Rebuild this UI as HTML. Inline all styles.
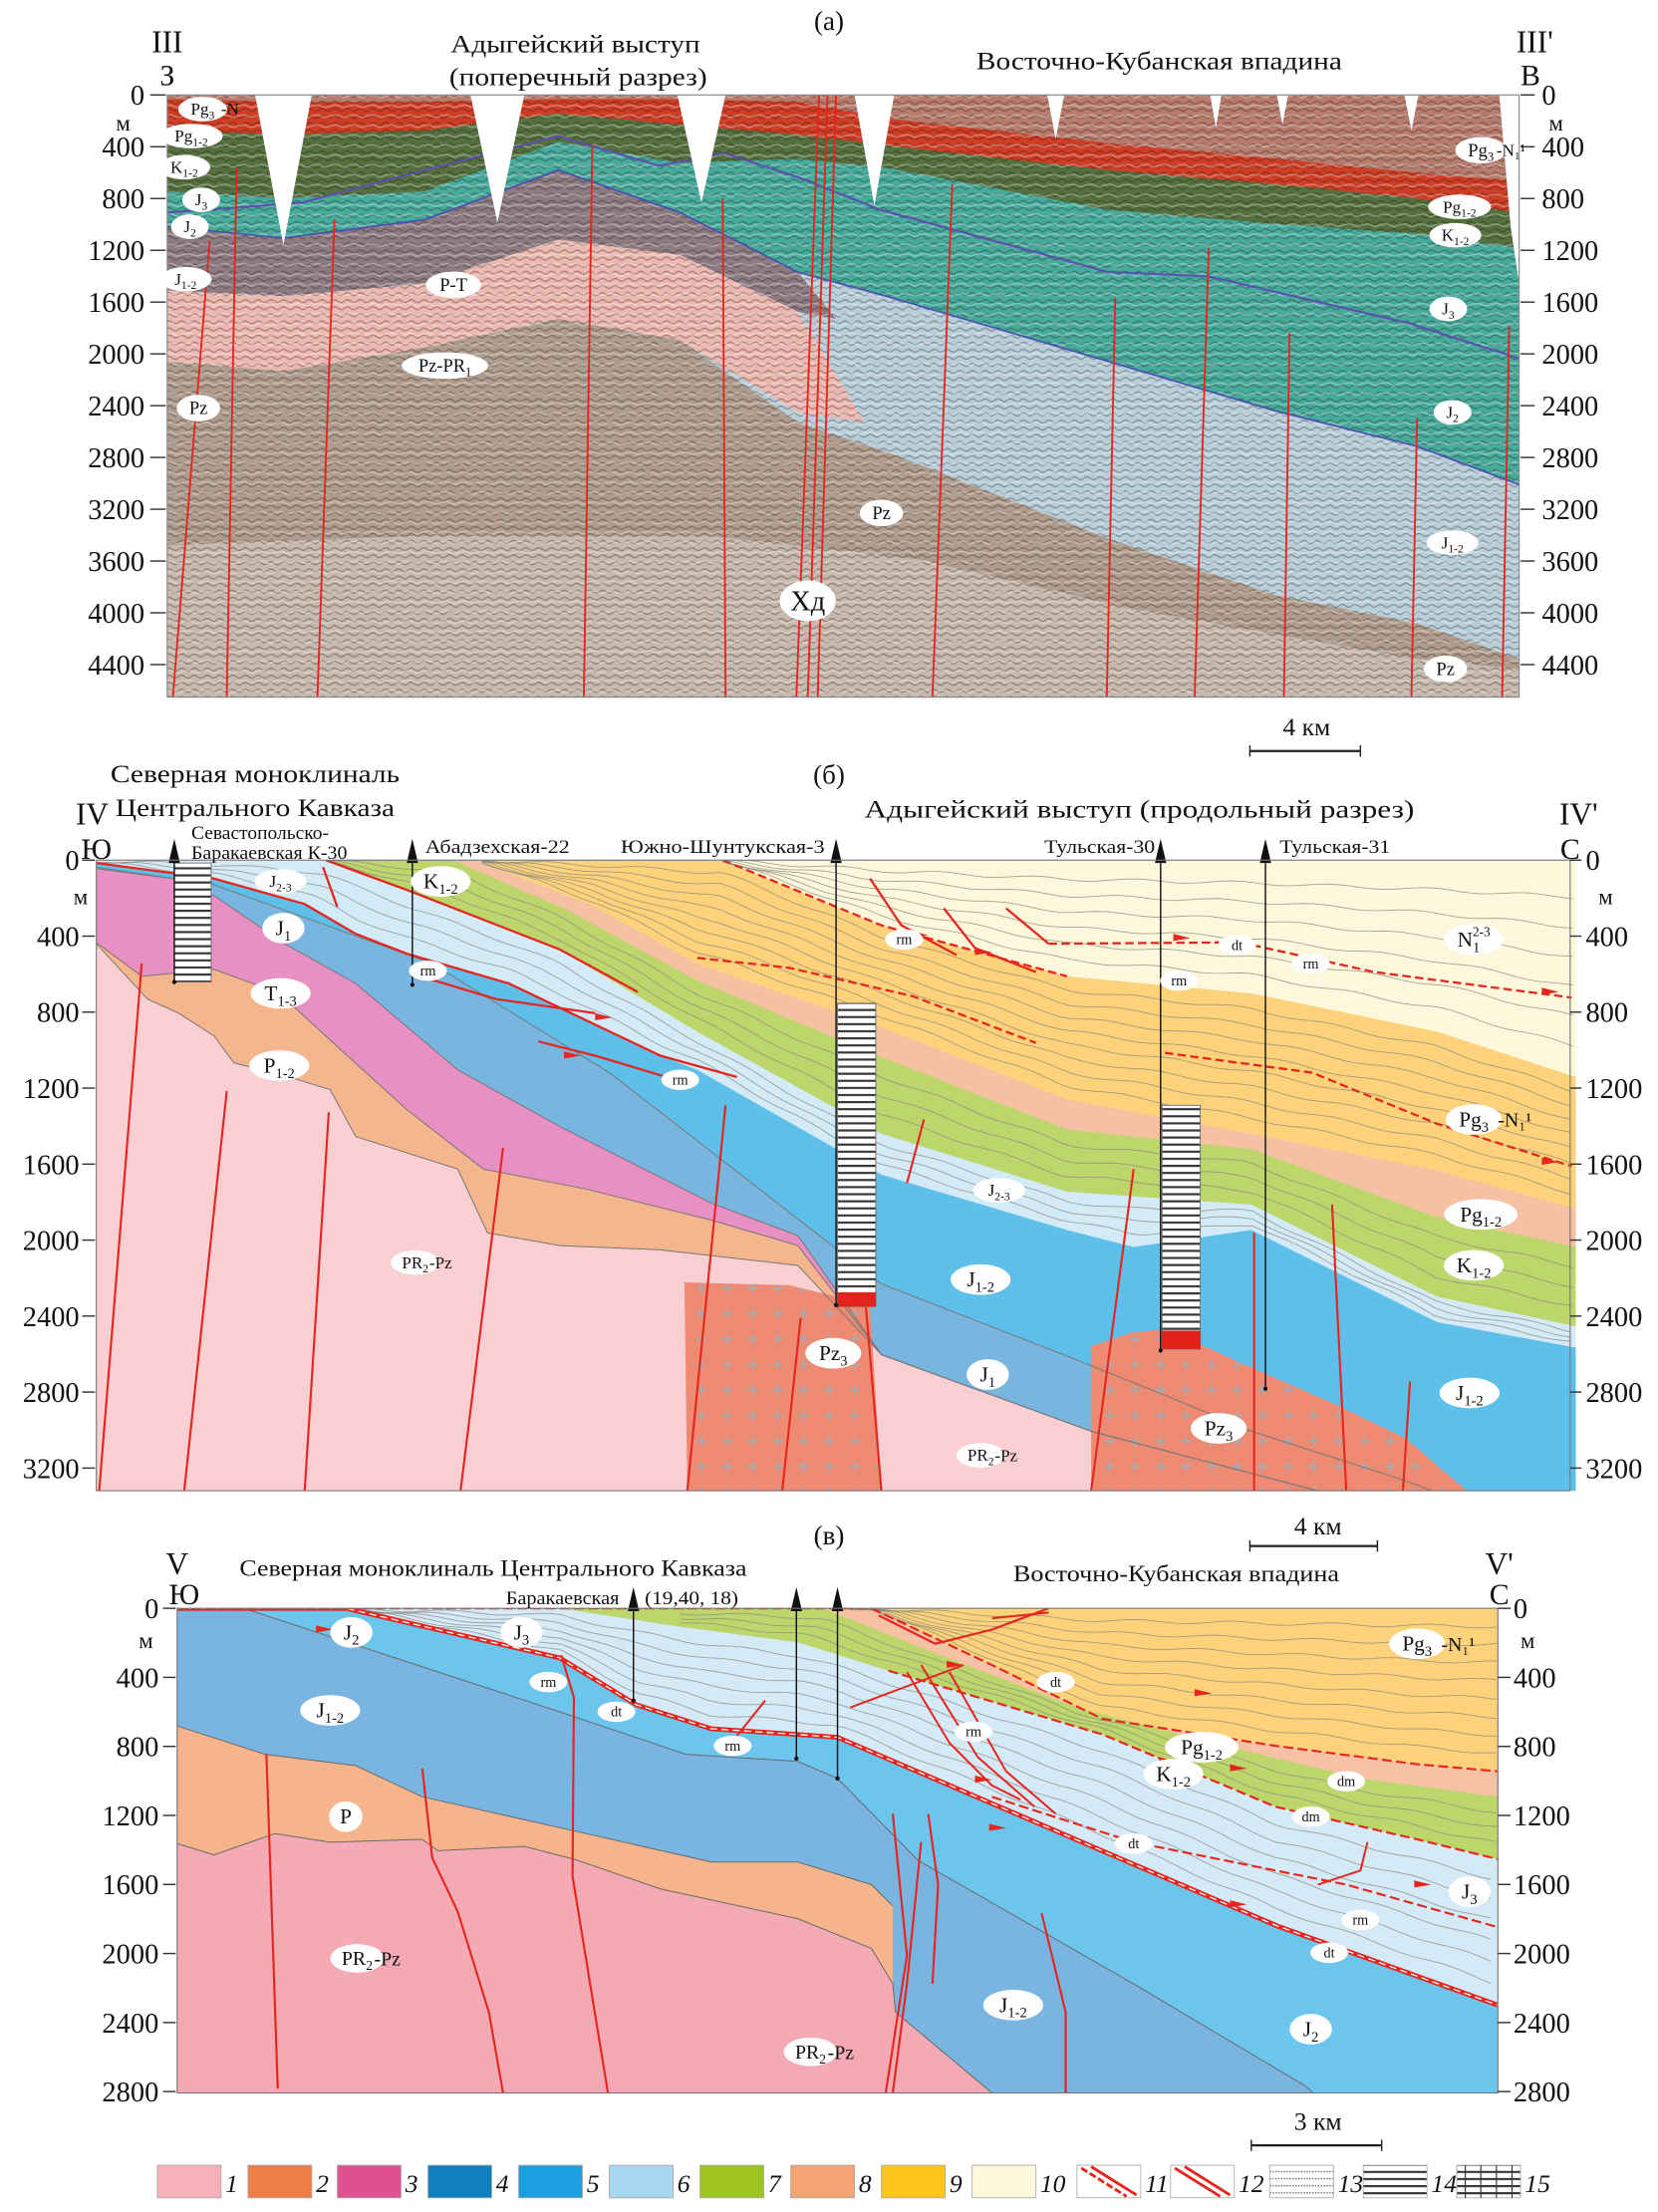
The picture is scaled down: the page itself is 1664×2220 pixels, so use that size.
<!DOCTYPE html>
<html><head><meta charset="utf-8">
<style>
html,body{margin:0;padding:0;background:#fff;}
svg{display:block;font-family:"Liberation Serif","DejaVu Serif",serif;}
</style></head>
<body>
<svg id="fig" xmlns="http://www.w3.org/2000/svg" width="1664" height="2220" viewBox="0 0 1170 1561" preserveAspectRatio="none">
<defs>
<pattern id="seis" width="9" height="5" patternUnits="userSpaceOnUse">
<path d="M0 2.5 Q2.25 0.5 4.5 2.5 T9 2.5" fill="none" stroke="rgba(40,20,15,0.35)" stroke-width="0.9"/>
</pattern>
<pattern id="seis2" width="13" height="7" patternUnits="userSpaceOnUse">
<path d="M0 5 Q3 3 6 5 T13 4" fill="none" stroke="rgba(255,255,255,0.35)" stroke-width="1"/>
</pattern>
<pattern id="cross" width="18" height="18" patternUnits="userSpaceOnUse">
<path d="M9 5V13M5 9H13" stroke="#9cb0b8" stroke-width="1"/>
</pattern>
<pattern id="stripes" width="6" height="5" patternUnits="userSpaceOnUse">
<rect width="6" height="5" fill="#fff"/><rect y="2" width="6" height="1.5" fill="#333"/>
</pattern>
<pattern id="dashes" width="6" height="5" patternUnits="userSpaceOnUse">
<rect width="6" height="5" fill="#fff"/><path d="M0 2.5H6" stroke="#555" stroke-width="0.8" stroke-dasharray="1 1"/>
</pattern>
<clipPath id="clipA"><rect x="118" y="67" width="954" height="425"/></clipPath>
<clipPath id="clipB"><rect x="68" y="607" width="1044" height="445"/></clipPath>
<clipPath id="clipC"><rect x="125" y="1135" width="932" height="342"/></clipPath>
</defs>
<g id="gA"></g>
<g id="gB"></g>
<g id="gC"></g>
<g id="gT"></g>
<g id="gL"></g>
</svg>
<script>
// ---- data arrays ----
const ticksA = [0,400,800,1200,1600,2000,2400,2800,3200,3600,4000,4400];
const ticksB = [0,400,800,1200,1600,2000,2400,2800,3200];
const ticksC = [0,400,800,1200,1600,2000,2400,2800];
const legendNums = ["1","2","3","4","5","6","7","8","9","10","11","12","13","14","15"];
const legendColors = ["#f5b1b7","#ee7d47","#e0528f","#0f7fc0","#1c9fdf","#a7d7f1","#9dc41f","#f4a372","#fdc41c","#fdf8dc","","","","",""];

// axis functions
const yA = v => 67 + v*(402/4400);
const yB = v => 607 + v*(429/3200);
const yC = v => 1135 + v*(341/2800);

const NS="http://www.w3.org/2000/svg";
function mk(tag,parent,attrs){const e=document.createElementNS(NS,tag);for(const k in attrs)e.setAttribute(k,attrs[k]);parent.appendChild(e);return e;}
const P = pts => pts.map(p=>p[0]+','+p[1]).join(' ');
function below(pts,bottom){return [...pts,[pts[pts.length-1][0],bottom],[pts[0][0],bottom]];}
function between(t,b){return [...t,...b.slice().reverse()];}
function interp(pts,x){if(x<=pts[0][0])return pts[0][1];for(let i=1;i<pts.length;i++){if(x<=pts[i][0]){const a=pts[i-1],b=pts[i];return a[1]+(b[1]-a[1])*(x-a[0])/(b[0]-a[0]);}}return pts[pts.length-1][1];}
function zip(X,Y){return X.map((x,i)=>[x,Y[i]]);}

const gA=document.getElementById('gA'),gB=document.getElementById('gB'),gC=document.getElementById('gC'),gT=document.getElementById('gT'),gL=document.getElementById('gL');

function poly(g,pts,fill,name,extra){const e=mk('polygon',g,Object.assign({points:P(pts),fill:fill},extra||{}));


return e;}
function line(g,pts,stroke,w,name,extra){const e=mk('polyline',g,Object.assign({points:P(pts),fill:'none',stroke:stroke,'stroke-width':w},extra||{}));


return e;}
function txt(g,x,y,s,size,anchor,name,extra){const e=mk('text',g,Object.assign({x:x,y:y,'font-size':size,'text-anchor':anchor||'start',fill:'#111'},extra||{}));e.textContent=s;


return e;}
function glabel(g,x,y,main,sub,sup,size,name){
  const grp=mk('g',g,{});
  
  
  const len=main.length+0.65*Math.max((sub||'').length,(sup||'').length);
  const rx=len*size*0.32+7, ry=size*0.72;
  mk('ellipse',grp,{cx:x,cy:y,rx:rx,ry:ry,fill:'#fff'});
  const t=mk('text',grp,{x:x,y:y+size*0.33,'font-size':size,'text-anchor':'middle',fill:'#111'});
  const a=mk('tspan',t,{});a.textContent=main;
  if(sub){const s=mk('tspan',t,{'font-size':size*0.68,dy:size*0.25});s.textContent=sub;}
  if(sup){const s=mk('tspan',t,{'font-size':size*0.62,dy:sub?-size*0.75:-size*0.45,dx:sub?-(sub.length*size*0.34):0});s.textContent=sup;}
  return grp;}

// ================= PANEL A (seismic) =================
const cA=mk('g',gA,{'clip-path':'url(#clipA)'});
const XA=[118,200,300,394,480,563,629,782,900,1000,1072];
const aRed=zip(XA,[70,72,72,70,70,72,84,101,112,122,128]);
const aB1=zip(XA,[92,95,92,80,88,95,103,120,130,140,150]);
const aB2=zip(XA,[135,140,135,100,115,112,119,148,158,165,175]);
const aB3=zip(XA,[160,168,155,120,150,192,210,255,290,315,342]);
const aB5=zip(XA,[255,262,245,225,240,298,320,380,420,440,465]);
const aPinkT=[[118,205],[200,209],[300,200],[394,169],[480,180],[563,220],[610,298]];
const aPinkB=[[118,255],[200,262],[300,245],[394,225],[480,240],[563,291],[610,298]];
poly(cA,[[118,67],[1072,67],[1072,492],[118,492]],'#b77c6e','seis-top-pg3-n1');
poly(cA,below(aRed,492),'#cf3d24','seis-red-band');
poly(cA,below(aB1,492),'#54703f','seis-green-band');
poly(cA,below(aB2,492),'#45ab9c','seis-teal-j');
poly(cA,below(aB3,492),'#b7cfdb','seis-lightblue-j12');
poly(cA,between([...aB3.slice(0,6),[590,225]],[...aPinkT.slice(0,6),[590,225]]),'#8c7c82','seis-mottled-left');
poly(cA,below(aB5,492),'#ae9d8e','seis-pz');
poly(cA,between(aPinkT,aPinkB),'#ecb9b1','seis-pink-pt');
poly(cA,[[118,385],[300,378],[500,378],[650,395],[800,430],[1000,465],[1072,472],[1072,492],[118,492]],'#d6ccc3','seis-lower-light',{opacity:0.6});
mk('rect',cA,{x:118,y:67,width:954,height:425,fill:'url(#seis)'});
mk('rect',cA,{x:118,y:67,width:954,height:425,fill:'url(#seis2)'});
line(cA,[[118,150],[213,143],[300,120],[394,96],[465,117],[511,108],[563,125],[621,148],[782,192],[853,195],[994,228],[1072,253]],'#5a4fb0',1.4,'horizon-line-1');
line(cA,aB3,'#4b4fb0',1.2,'horizon-line-2');
const notches=[[200,20,173],[351,19,157],[495,17,143],[617,14,145],[745,6,98],[858,4,90],[905,4,88],[996,5,92]];
notches.forEach(n=>{poly(cA,[[n[0]-n[1],67],[n[0]+n[1],67],[n[0],n[2]]],'#fff','notch');});
poly(cA,[[1058,67],[1072,67],[1072,200],[1066,160]],'#fff','notch-right-edge');
const faultsA=[[148,170,122,492],[167,118,160,492],[236,155,224,492],[418,103,412,492],[510,140,512,492],[578,65,562,492],[584,65,570,492],[590,65,577,492],[672,130,658,492],[787,210,781,492],[853,175,843,492],[910,235,906,492],[1000,295,996,492],[1065,230,1060,492]];
faultsA.forEach(f=>line(cA,[[f[0],f[1]],[f[2],f[3]]],'#e8231e',1.3,'fault-line'));
const fa=mk('rect',gA,{x:118,y:67,width:954,height:425,fill:'none',stroke:'#888','stroke-width':0.8});


ticksA.forEach(v=>{
  const y=yA(v);
  line(gA,[[106,y],[117,y]],'#333',1,'tick-left');
  line(gA,[[1073,y],[1083,y]],'#333',1,'tick-right');
  txt(gA,102,y+7,String(v),20,'end','depth-label-left');
  txt(gA,1088,y+7,String(v),20,'start','depth-label-right');
});
txt(gA,92,92,'м',16,'end','unit-left');
txt(gA,1093,92,'м',16,'start','unit-right');
glabel(gA,143,77,'Pg','3','',12,'label-pg3-n1');txt(gA,156,81,'-N',12,'start','label-n1');
glabel(gA,135,96,'Pg','1-2','',12,'label-pg12');
glabel(gA,130,118,'K','1-2','',12,'label-k12');
glabel(gA,142,141,'J','3','',12,'label-j3');
glabel(gA,134,160,'J','2','',12,'label-j2');
glabel(gA,131,197,'J','1-2','',12,'label-j12');
glabel(gA,320,201,'P-T','','',13,'label-p-t');
glabel(gA,314,258,'Pz-PR','1','',13,'label-pz-pr1');
glabel(gA,140,288,'Pz','','',13,'label-pz-left');
glabel(gA,622,362,'Pz','','',13,'label-pz-mid');
glabel(gA,570,424,'Хд','','',20,'label-hd');
glabel(gA,1045,106,'Pg','3','',13,'label-pg3-right');txt(gA,1056,110,'-N₁¹',12,'start','label-n1-right');
glabel(gA,1030,146,'Pg','1-2','',12,'label-pg12-right');
glabel(gA,1027,166,'K','1-2','',12,'label-k12-right');
glabel(gA,1022,218,'J','3','',12,'label-j3-right');
glabel(gA,1025,291,'J','2','',12,'label-j2-right');
glabel(gA,1025,383,'J','1-2','',12,'label-j12-right');
glabel(gA,1020,472,'Pz','','',13,'label-pz-right');

// ================= PANEL B =================
const cB=mk('g',gB,{'clip-path':'url(#clipB)'});
const bN=[[68,607],[510,607],[622,653],[753,689],[883,701],[1014,728],[1112,760]];
const bY=[[68,607],[337,607],[420,640],[492,680],[622,725],[753,776],[883,800],[1014,826],[1112,853]];
const bS=[[68,607],[320,607],[400,642],[492,692],[622,746],[753,797],[883,811],[1014,859],[1112,880]];
const bG=[[68,607],[230,607],[287,628],[395,670],[492,728],[622,800],[753,841],[883,850],[1014,915],[1112,936]];
const bLB=[[68,609],[151,620],[215,638],[251,659],[287,673],[359,694],[466,745],[492,755],[622,829],[753,868],[800,880],[883,868],[1014,933],[1112,951]];
const bB5=[[68,612],[150,624],[305,680],[430,757],[492,805],[622,906],[753,957],[823,985],[883,1010],[992,1045],[1112,1090]];
const bMagT=[[68,613],[122,620],[151,632],[201,666],[251,694],[323,755],[395,795],[502,849],[563,872],[622,956],[770,1010],[1112,1100]];
const bOrT=[[68,665],[100,689],[151,684],[197,701],[233,734],[287,783],[341,825],[413,839],[502,861],[563,879],[622,956],[770,1010],[1112,1100]];
const bPkT=[[68,666],[104,705],[126,715],[151,731],[165,750],[201,759],[233,769],[251,802],[323,825],[344,870],[395,879],[466,882],[563,893],[622,956],[770,1010],[1112,1100]];
poly(cB,[[68,607],[1112,607],[1112,1052],[68,1052]],'#fdf7dc','b-n1-cream');
poly(cB,below(bN,1060),'#fdd27a','b-pg3-n1-yellow');
poly(cB,below(bY,1060),'#f6c0a3','b-pg12-salmon');
poly(cB,below(bS,1060),'#bcd66c','b-k12-green');
poly(cB,below(bG,1060),'#d3eaf7','b-j23-lightblue');
poly(cB,below(bLB,1060),'#5ebfea','b-j12-blue');
poly(cB,below(bB5,1060),'#78b6e0','b-j1-darkblue');
poly(cB,below(bMagT,1060),'#e88fc3','b-t13-magenta');
poly(cB,below(bOrT,1060),'#f5b58d','b-p12-orange');
poly(cB,below(bPkT,1060),'#f9cfd2','b-pr2-pz-pink');
function bedding(g,top,bot,n,x0,x1,clipTop,name){for(let i=1;i<n;i++){const t=i/n;const pts=[];for(let x=x0;x<=x1;x+=8){let y=interp(top,x)+t*(interp(bot,x)-interp(top,x));y+=1.2*Math.sin(x/11+i);if(y<clipTop)y=clipTop;pts.push([x,+y.toFixed(1)]);}line(g,pts,'#8a8a80',0.6,name,{opacity:0.8});}}
bedding(cB,[[510,607],[1112,612]],bN,7,510,1112,607,'bed-n1');
bedding(cB,bN,bY,9,340,1112,607,'bed-pg3');
bedding(cB,bS,bG,4,230,1112,607,'bed-k');
bedding(cB,bG,bLB,4,68,1112,607,'bed-j23');
const pz1=[[483,905],[520,906],[557,907],[590,915],[614,922],[622,1052],[485,1052]];
const pz2=[[770,950],[800,940],[823,938],[883,965],[940,990],[992,1015],[1035,1052],[770,1052]];
poly(cB,pz1,'#ef8a72','b-pz3-block-1');poly(cB,pz1,'url(#cross)','b-pz3-cross-1');
poly(cB,pz2,'#ef8a72','b-pz3-block-2');poly(cB,pz2,'url(#cross)','b-pz3-cross-2');
[bB5,bMagT,bOrT,bPkT].forEach(l=>line(cB,l,'#777',0.7,'b-boundary'));
const redB=[
 [[68,609],[151,620],[215,638],[251,659],[287,673],[359,694],[466,745],[520,760]],
 [[230,607],[287,628],[395,670],[450,700]],
 [[510,607],[622,653],[753,689]],
 [[492,676],[557,683],[644,703],[731,736]],
 [[822,743],[926,757],[1014,793],[1109,823]],
 [[740,666],[875,665],[970,686],[1109,704]]];
redB.forEach((l,i)=>line(cB,l,'#e5251e',1.6,'b-thrust-line',{'stroke-dasharray':i>1?'6 3':'none'}));
[[[614,620],[636,653],[675,674]],[[666,641],[688,669],[731,686]],[[710,641],[740,666]],[[228,612],[238,640]],[[300,690],[350,705],[420,715]],[[380,735],[420,745],[470,760]]].forEach(l=>line(cB,l,'#e5251e',1.6,'b-fault-curve'));
[[655,660],[700,672],[840,662],[1100,700],[1100,820],[432,718],[410,745]].forEach(p=>poly(cB,[[p[0]-12,p[1]-3],[p[0],p[1]],[p[0]-12,p[1]+2]],'#e5251e','b-thrust-arrow'));
const faultsB=[[100,680,70,1052],[160,770,130,1052],[232,785,215,1052],[355,810,325,1052],[512,780,485,1052],[565,930,552,1052],[610,910,622,1052],[652,790,640,835],[800,825,770,1052],[885,870,885,1052],[940,850,950,1052],[995,975,990,1052]];
faultsB.forEach(f=>line(cB,[[f[0],f[1]],[f[2],f[3]]],'#e5251e',1.5,'b-fault'));
function well(g,x,top,bot,name){line(g,[[x,top],[x,bot]],'#111',1,name);poly(g,[[x-4,top+2],[x+4,top+2],[x,top-15]],'#111',name+'-marker');mk('circle',g,{cx:x,cy:bot,r:1.5,fill:'#111'});}
function column(g,x,y,w,h,red,name){const r1=mk('rect',g,{x:x,y:y,width:w,height:h,fill:'url(#stripes)',stroke:'#666','stroke-width':0.6});


if(red){const r2=mk('rect',g,{x:x,y:y+h-red,width:w,height:red,fill:'#e3221c'});

}}
column(gB,123,609,26,84,0,'b-column-k30');
column(gB,591,708,27,214,10,'b-column-shuntuk');
column(gB,820,780,27,172,13,'b-column-tulsk30');
well(gB,123,607,693,'b-well-k30');
well(gB,291,607,695,'b-well-abadzeh');
well(gB,590,607,921,'b-well-shuntuk');
well(gB,819,607,953,'b-well-tulsk30');
well(gB,893,607,980,'b-well-tulsk31');
const fb=mk('rect',gB,{x:68,y:607,width:1040,height:445,fill:'none',stroke:'#777','stroke-width':0.8});


ticksB.forEach(v=>{
  const y=yB(v);
  line(gB,[[58,y],[67,y]],'#333',1,'tick-left');
  line(gB,[[1108,y],[1116,y]],'#333',1,'tick-right');
  txt(gB,56,y+7,String(v),20,'end','depth-label-left');
  txt(gB,1119,y+7,String(v),20,'start','depth-label-right');
});
txt(gB,62,638,'м',16,'end','unit-left');
txt(gB,1128,638,'м',16,'start','unit-right');
glabel(gB,198,622,'J','2-3','',12,'label-j23');
glabel(gB,200,655,'J','1','',15,'label-j1');
glabel(gB,198,701,'T','1-3','',15,'label-t13');
glabel(gB,197,752,'P','1-2','',15,'label-p12');
glabel(gB,311,622,'K','1-2','',15,'label-k12');
glabel(gB,302,685,'rm','','',10,'label-rm');
glabel(gB,480,762,'rm','','',10,'label-rm');
glabel(gB,638,663,'rm','','',10,'label-rm');
glabel(gB,832,692,'rm','','',10,'label-rm');
glabel(gB,873,667,'dt','','',10,'label-dt');
glabel(gB,925,680,'rm','','',10,'label-rm');
glabel(gB,1040,663,'N','1','2-3',15,'label-n1-23');
glabel(gB,1040,790,'Pg','3','',15,'label-pg3-n1');txt(gB,1057,795,'-N₁¹',14,'start','label-n1');
glabel(gB,1045,857,'Pg','1-2','',15,'label-pg12');
glabel(gB,1040,893,'K','1-2','',15,'label-k12-right');
glabel(gB,705,840,'J','2-3','',12,'label-j23-mid');
glabel(gB,692,903,'J','1-2','',15,'label-j12');
glabel(gB,697,970,'J','1','',15,'label-j1-mid');
glabel(gB,588,955,'Pz','3','',15,'label-pz3');
glabel(gB,860,1008,'Pz','3','',15,'label-pz3-right');
glabel(gB,293,891,'PR','2','',12,'label-pr2-pz');txt(gB,303,895,'-Pz',12,'start','label-pz');
glabel(gB,692,1027,'PR','2','',12,'label-pr2-pz-mid');txt(gB,702,1031,'-Pz',12,'start','label-pz');
glabel(gB,1037,983,'J','1-2','',15,'label-j12-right');

// ================= PANEL C =================
const cC=mk('g',gC,{'clip-path':'url(#clipC)'});
const cY=[[125,1135],[615,1135],[700,1175],[778,1213],[900,1232],[1000,1245],[1057,1250]];
const cS=[[125,1135],[580,1135],[656,1165],[760,1205],[860,1231],[960,1255],[1057,1268]];
const cG=[[125,1135],[395,1135],[480,1148],[563,1159],[627,1179],[778,1224],[900,1275],[1000,1298],[1057,1312]];
const cLB=[[125,1135],[244,1135],[395,1170],[449,1203],[502,1220],[563,1224],[591,1226],[738,1289],[901,1359],[1057,1415]];
const cB5=[[125,1135],[172,1135],[395,1208],[484,1238],[563,1243],[591,1255],[648,1313],[800,1400],[921,1472],[930,1480]];
const cOrT=[[125,1218],[187,1238],[251,1246],[298,1268],[405,1292],[502,1314],[563,1314],[615,1330],[630,1345]];
const cPB=[[125,1301],[151,1309],[194,1294],[233,1300],[298,1298],[309,1306],[370,1303],[405,1312],[466,1333],[563,1354],[615,1375],[630,1400]];
const cPkT=[...cPB,[632,1420],[700,1477],[1057,1490]];
poly(cC,[[125,1135],[1057,1135],[1057,1477],[125,1477]],'#fdd27a','c-pg3-n1-yellow');
poly(cC,below(cY,1490),'#f7c1a6','c-pg12-salmon');
poly(cC,below(cS,1490),'#bcd66c','c-k12-green');
poly(cC,below(cG,1490),'#d5eaf7','c-j3-lightblue');
poly(cC,below(cLB,1490),'#6cc5ed','c-j2-blue');
poly(cC,[...cB5,[125,1490]],'#79b5e0','c-j12-darkblue');
poly(cC,between(cOrT,cPB),'#f5b48c','c-p-orange');
poly(cC,below(cPkT,1490),'#f4aab5','c-pr2-pz-pink');
[cB5,cOrT,cPkT].forEach(l=>line(cC,l,'#6a6a6a',0.7,'c-boundary'));
bedding(cC,[[600,1135],[1057,1135]],cY,9,600,1057,1135,'bed-yellow');
bedding(cC,cS,cG,4,480,1057,1135,'bed-green');
bedding(cC,cG,cLB,7,244,1057,1135,'bed-lightblue');
line(cC,cLB,'#e5251e',3.4,'c-detachment');
line(cC,cLB,'#fff',0.9,'c-detachment-inner',{'stroke-dasharray':'5 3'});
line(cC,cY,'#e5251e',1.5,'c-thrust-y',{'stroke-dasharray':'7 3'});
line(cC,cG.slice(4),'#e5251e',1.5,'c-thrust-g',{'stroke-dasharray':'7 3'});
line(cC,[[700,1268],[800,1300],[950,1330],[1057,1360]],'#e5251e',1.5,'c-thrust-lb',{'stroke-dasharray':'7 3'});
line(cC,[[620,1140],[660,1160],[700,1150],[740,1135]],'#e5251e',1.5,'c-fault-curve');
[[[600,1205],[640,1190],[680,1175]],[[520,1225],[540,1200]],[[640,1180],[670,1230],[700,1260],[720,1270]],[[650,1175],[690,1240],[730,1275]],[[670,1180],[710,1250],[745,1280]],[[930,1330],[960,1320],[965,1300]],[[700,1142],[740,1138]]].forEach(l=>line(cC,l,'#e5251e',1.4,'c-fault-curve'));
[[680,1175],[235,1150],[700,1256],[855,1195],[710,1290],[880,1344],[1010,1330],[830,1243],[880,1248]].forEach(p=>poly(cC,[[p[0]-12,p[1]-3],[p[0],p[1]],[p[0]-12,p[1]+2]],'#e5251e','c-thrust-arrow'));
const faultsC=[[[188,1238],[196,1474]],[[298,1248],[305,1311],[323,1349],[345,1420],[355,1477]],[[396,1168],[405,1198],[404,1324],[429,1477]],[[630,1280],[640,1380],[625,1477]],[[650,1300],[640,1400],[630,1477]],[[655,1280],[662,1330],[658,1400]],[[735,1350],[752,1420],[752,1477]]];
faultsC.forEach(l=>line(cC,l,'#e5251e',1.5,'c-fault'));
well(gC,447,1135,1200,'c-well-barakaev');
well(gC,562,1135,1241,'c-well-2');
well(gC,591,1135,1255,'c-well-3');
const fc=mk('rect',gC,{x:125,y:1135,width:932,height:342,fill:'none',stroke:'#777','stroke-width':0.8});


ticksC.forEach(v=>{
  const y=yC(v);
  line(gC,[[115,y],[124,y]],'#333',1,'tick-left');
  line(gC,[[1057,y],[1066,y]],'#333',1,'tick-right');
  txt(gC,112,y+7,String(v),20,'end','depth-label-left');
  txt(gC,1068,y+7,String(v),20,'start','depth-label-right');
});
txt(gC,108,1163,'м',16,'end','unit-left');
txt(gC,1073,1163,'м',16,'start','unit-right');
glabel(gC,248,1152,'J','2','',15,'label-j2');
glabel(gC,368,1152,'J','3','',15,'label-j3');
glabel(gC,387,1187,'rm','','',10,'label-rm');
glabel(gC,233,1207,'J','1-2','',15,'label-j12');
glabel(gC,435,1208,'dt','','',10,'label-dt');
glabel(gC,517,1232,'rm','','',10,'label-rm');
glabel(gC,687,1222,'rm','','',10,'label-rm');
glabel(gC,745,1187,'dt','','',10,'label-dt');
glabel(gC,1000,1160,'Pg','3','',15,'label-pg3-n1');txt(gC,1017,1165,'-N₁¹',14,'start','label-n1');
glabel(gC,848,1233,'Pg','1-2','',15,'label-pg12');
glabel(gC,828,1252,'K','1-2','',15,'label-k12');
glabel(gC,950,1257,'dm','','',10,'label-dm');
glabel(gC,925,1282,'dm','','',10,'label-dm');
glabel(gC,800,1301,'dt','','',10,'label-dt');
glabel(gC,960,1355,'rm','','',10,'label-rm');
glabel(gC,1037,1335,'J','3','',15,'label-j3-right');
glabel(gC,938,1378,'dt','','',10,'label-dt');
glabel(gC,244,1282,'P','','',15,'label-p');
glabel(gC,252,1382,'PR','2','',14,'label-pr2-pz');txt(gC,264,1387,'-Pz',14,'start','label-pz');
glabel(gC,715,1415,'J','1-2','',15,'label-j12-mid');
glabel(gC,572,1448,'PR','2','',14,'label-pr2-pz-mid');txt(gC,584,1453,'-Pz',14,'start','label-pz');
glabel(gC,925,1432,'J','2','',15,'label-j2-right');

// ================= TITLES / ANNOTATIONS =================
const T=[
 [585,21,'(а)',19,'middle',0,'panel-a-title'],
 [118,37,'III',22,'middle',0,'section-start-label'],
 [118,60,'З',21,'middle',0,'west-label'],
 [406,37,'Адыгейский выступ',18,'middle',176,'region-title-adygei'],
 [408,60,'(поперечный разрез)',18,'middle',182,'region-subtitle'],
 [818,49,'Восточно-Кубанская впадина',18,'middle',258,'region-title-kuban'],
 [1083,37,'III\'',22,'middle',0,'section-end-label'],
 [1080,60,'В',21,'middle',0,'east-label'],
 [922,519,'4 км',18,'middle',0,'scale-label-a'],
 [180,552,'Северная моноклиналь',18,'middle',204,'region-title-north-monocline'],
 [180,576,'Центрального Кавказа',18,'middle',197,'region-title-caucasus'],
 [585,553,'(б)',19,'middle',0,'panel-b-title'],
 [65,582,'IV',22,'middle',0,'section-start-label'],
 [68,606,'Ю',21,'middle',0,'south-label'],
 [135,592,'Севастопольско-',13,'start',97,'well-name'],
 [135,606,'Баракаевская К-30',13,'start',110,'well-name'],
 [300,602,'Абадзехская-22',13,'start',102,'well-name'],
 [582,602,'Южно-Шунтукская-3',13,'end',144,'well-name'],
 [610,577,'Адыгейский   выступ   (продольный разрез)',18,'start',388,'region-title-adygei-long'],
 [815,602,'Тульская-30',13,'end',78,'well-name'],
 [903,602,'Тульская-31',13,'start',78,'well-name'],
 [1114,582,'IV\'',22,'middle',0,'section-end-label'],
 [1108,606,'С',21,'middle',0,'north-label'],
 [930,1083,'4 км',18,'middle',0,'scale-label-b'],
 [585,1090,'(в)',19,'middle',0,'panel-c-title'],
 [125,1111,'V',22,'middle',0,'section-start-label'],
 [130,1132,'Ю',21,'middle',0,'south-label'],
 [348,1112,'Северная моноклиналь Центрального Кавказа',16,'middle',358,'region-title-north-monocline'],
 [437,1132,'Баракаевская',13,'end',80,'well-name'],
 [455,1132,'(19,40, 18)',13,'start',66,'well-name'],
 [830,1116,'Восточно-Кубанская впадина',16,'middle',230,'region-title-kuban'],
 [1058,1111,'V\'',22,'middle',0,'section-end-label'],
 [1058,1132,'С',21,'middle',0,'north-label'],
 [930,1503,'3 км',18,'middle',0,'scale-label-c']];
T.forEach(t=>{const e=txt(gT,t[0],t[1],t[2],t[3],t[4],t[6]);if(t[5]){e.setAttribute('textLength',t[5]);e.setAttribute('lengthAdjust','spacingAndGlyphs');}});
[[882,960,530],[882,972,1091],[883,975,1514]].forEach(s=>{
  line(gT,[[s[0],s[2]],[s[1],s[2]]],'#222',1.6,'scale-bar');
  line(gT,[[s[0],s[2]-4],[s[0],s[2]+4]],'#222',1,'scale-bar-end');
  line(gT,[[s[1],s[2]-4],[s[1],s[2]+4]],'#222',1,'scale-bar-end');
});

// ================= LEGEND =================
const legX=[111,175,238,302,366,430,494,558,622,686,760,826,896,962,1028];
legendNums.forEach((n,i)=>{
  const x=legX[i],y=1528,w=45,h=23;
  const r=mk('rect',gL,{x:x,y:y,width:w,height:h,fill:legendColors[i]||'#fff',stroke:'#aaa','stroke-width':0.6});
  
  
  if(i===10||i===11){
    line(gL,[[x+3,y+2],[x+35,y+22]],'#e5251e',2,'legend-fault-line',{'stroke-dasharray':i===10?'5 2':'none'});
    line(gL,[[x+10,y+1],[x+42,y+21]],'#e5251e',2,'legend-fault-line');
  }
  if(i===12){r.setAttribute('fill','url(#dashes)');}
  if(i===13){r.setAttribute('fill','url(#stripes)');}
  if(i===14){r.setAttribute('fill','url(#stripes)');for(let k=0;k<4;k++){line(gL,[[x+6+k*11,y],[x+6+k*11,y+h]],'#333',0.8,'legend-brick');}}
  txt(gL,x+w+3,y+19,n,18,'start','legend-number-'+n,{'font-style':'italic'});
});
</script>
</body></html>
